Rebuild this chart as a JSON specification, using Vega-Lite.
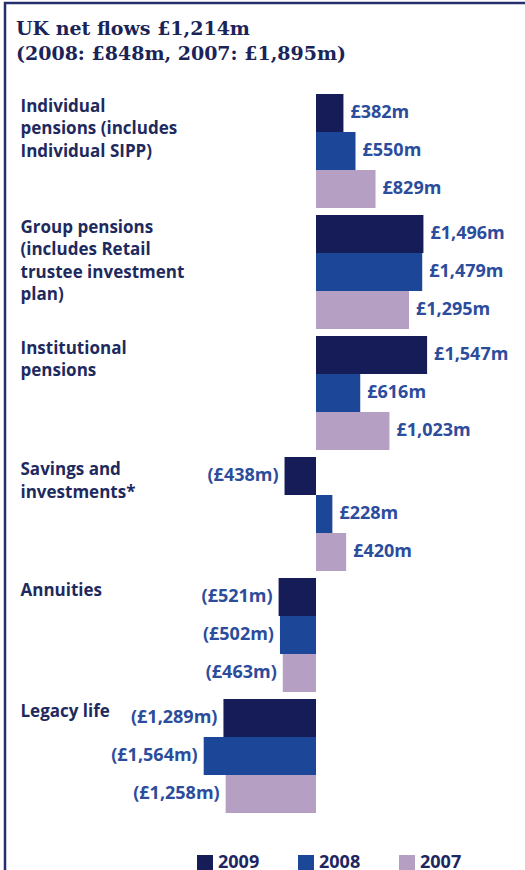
{
  "$schema": "https://vega.github.io/schema/vega-lite/v6.json",
  "autosize": {"type": "none"},
  "padding": {"left": 5, "top": 3, "right": 0, "bottom": 0},
  "width": 540,
  "height": 900,
  "background": "white",
  "title": {
    "text": ["UK net flows £1,214m", "(2008: £848m, 2007: £1,895m)"],
    "anchor": "start",
    "frame": "group",
    "orient": "top",
    "offset": -61,
    "dx": 11,
    "font": "DejaVu Serif",
    "fontSize": 19,
    "fontWeight": "bold",
    "color": "#1b2458",
    "lineHeight": 25
  },
  "config": {
    "view": {"stroke": "#262e6b", "strokeWidth": 2.5}
  },
  "data": {
    "values": [
      {"category": "Individual\npensions (includes\nIndividual SIPP)", "year": "2009", "value": 382},
      {"category": "Individual\npensions (includes\nIndividual SIPP)", "year": "2008", "value": 550},
      {"category": "Individual\npensions (includes\nIndividual SIPP)", "year": "2007", "value": 829},
      {"category": "Group pensions\n(includes Retail\ntrustee investment\nplan)", "year": "2009", "value": 1496},
      {"category": "Group pensions\n(includes Retail\ntrustee investment\nplan)", "year": "2008", "value": 1479},
      {"category": "Group pensions\n(includes Retail\ntrustee investment\nplan)", "year": "2007", "value": 1295},
      {"category": "Institutional\npensions", "year": "2009", "value": 1547},
      {"category": "Institutional\npensions", "year": "2008", "value": 616},
      {"category": "Institutional\npensions", "year": "2007", "value": 1023},
      {"category": "Savings and\ninvestments*", "year": "2009", "value": -438},
      {"category": "Savings and\ninvestments*", "year": "2008", "value": 228},
      {"category": "Savings and\ninvestments*", "year": "2007", "value": 420},
      {"category": "Annuities", "year": "2009", "value": -521},
      {"category": "Annuities", "year": "2008", "value": -502},
      {"category": "Annuities", "year": "2007", "value": -463},
      {"category": "Legacy life", "year": "2009", "value": -1289},
      {"category": "Legacy life", "year": "2008", "value": -1564},
      {"category": "Legacy life", "year": "2007", "value": -1258}
    ]
  },
  "transform": [
    {"calculate": "datum.value < 0 ? '(£' + format(-datum.value, ',') + 'm)' : '£' + format(datum.value, ',') + 'm'", "as": "label"}
  ],
  "encoding": {
    "y": {
      "field": "category",
      "type": "nominal",
      "sort": [
        "Individual\npensions (includes\nIndividual SIPP)",
        "Group pensions\n(includes Retail\ntrustee investment\nplan)",
        "Institutional\npensions",
        "Savings and\ninvestments*",
        "Annuities",
        "Legacy life"
      ],
      "scale": {"range": [91, 810], "paddingInner": 0.058, "paddingOuter": 0},
      "axis": {
        "title": null,
        "domain": false,
        "ticks": false,
        "tickSize": 0,
        "grid": false,
        "labelAlign": "left",
        "labelBaseline": "top",
        "labelPadding": -15,
        "labelOffset": -52,
        "labelLimit": 0,
        "labelOverlap": false,
        "labelFont": "Open Sans",
        "labelFontSize": 17,
        "labelFontWeight": "bold",
        "labelColor": "#1e2a5e",
        "labelLineHeight": 22.5,
        "labelExpr": "split(datum.label, '\\n')"
      }
    },
    "yOffset": {
      "field": "year",
      "type": "nominal",
      "sort": ["2009", "2008", "2007"],
      "scale": {"paddingInner": 0, "paddingOuter": 0}
    },
    "x": {
      "field": "value",
      "type": "quantitative",
      "scale": {"domain": [-4331, 3189], "nice": false, "zero": false},
      "axis": null
    }
  },
  "layer": [
    {
      "mark": {"type": "bar"},
      "encoding": {
        "color": {
          "field": "year",
          "type": "nominal",
          "scale": {"domain": ["2009", "2008", "2007"], "range": ["#151c57", "#1c4697", "#b5a0c4"]},
          "legend": {
            "orient": "none",
            "legendX": 191,
            "legendY": 851,
            "direction": "horizontal",
            "title": null,
            "padding": 0,
            "symbolType": "square",
            "symbolSize": 256,
            "symbolStrokeWidth": 0,
            "symbolOpacity": 1,
            "labelFont": "Open Sans",
            "labelFontSize": 18,
            "labelFontWeight": "bold",
            "labelColor": "#1e2661",
            "labelOffset": 4,
            "columnPadding": 37
          }
        }
      }
    },
    {
      "transform": [{"filter": "datum.value >= 0"}],
      "mark": {"type": "text", "align": "left", "baseline": "middle", "dx": 7, "font": "Open Sans", "fontSize": 18, "fontWeight": "bold", "color": "#2c4c9c"},
      "encoding": {"text": {"field": "label", "type": "nominal"}}
    },
    {
      "transform": [{"filter": "datum.value < 0"}],
      "mark": {"type": "text", "align": "right", "baseline": "middle", "dx": -6, "font": "Open Sans", "fontSize": 18, "fontWeight": "bold", "color": "#2c4c9c"},
      "encoding": {"text": {"field": "label", "type": "nominal"}}
    }
  ]
}
